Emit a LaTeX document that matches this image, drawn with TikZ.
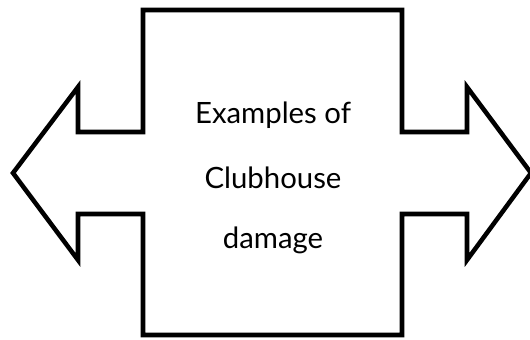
\documentclass[tikz,border=0pt]{standalone}
\usepackage{fontspec}
\setmainfont{Lato}
\usetikzlibrary{positioning}

\begin{document}
\begin{tikzpicture}[x=0.75pt,y=-0.75pt,
  outline/.style={draw=black,line width=3.4pt,miter limit=10,line join=miter,fill=white},
  label/.style={font=\fontsize{22}{22}\selectfont,anchor=base}]
\useasboundingbox (0,0) rectangle (530,339);
% double arrow round the central box
\draw[outline] (143,10) -- (402,10) -- (402,132) -- (467,132) -- (467,87) -- (531,173)
  -- (467,260) -- (467,214) -- (402,214) -- (402,335) -- (143,335) -- (143,214)
  -- (78,214) -- (78,260) -- (13,173) -- (78,87) -- (78,132) -- (143,132) -- cycle;
\node[label] (l1) at (273,123) {Examples of};
\node[label] (l2) at (273,188) {Clubhouse};
\node[label] (l3) at (273,248) {damage};
\end{tikzpicture}
\end{document}
